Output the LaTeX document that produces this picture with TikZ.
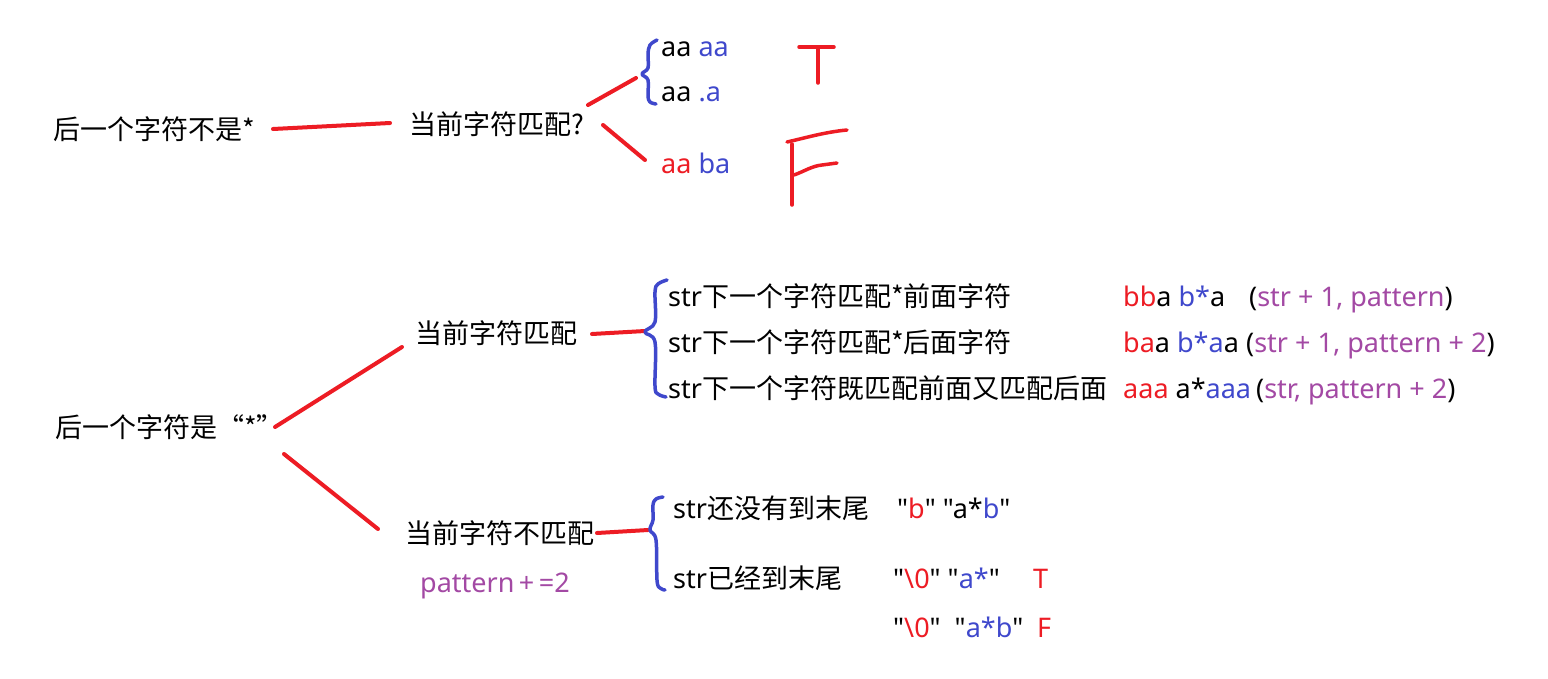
\documentclass[tikz,border=0pt]{standalone}
\usepackage{fontspec}
\setmainfont{Noto Sans}[Ligatures=TeXOff]
\newfontfamily\cjk{Noto Sans CJK SC}[Ligatures=TeXOff]
\definecolor{myred}{HTML}{ED1C24}
\definecolor{myblue}{HTML}{3F48CC}
\definecolor{mypurple}{HTML}{A349A4}
\begin{document}
\begin{tikzpicture}[x=1pt,y=-1pt,
  txt/.style={anchor=base west, inner sep=0pt, font=\fontsize{27}{32}\selectfont},
  redline/.style={draw=myred, line width=4pt, line cap=round},
  bluebrace/.style={draw=myblue, line width=3.5pt, line cap=round, line join=round},
  handred/.style={draw=myred, line width=3.5pt, line cap=round, line join=round}]
\useasboundingbox[fill=white] (0,0) rectangle (1548,678);

% ---------- part 1 ----------
\node[txt] (n1) at (53,139) {\cjk 后一个字符不是*};
\node[txt] (n2) at (409,134) {\cjk 当前字符匹配?};
\node[txt] (a1) at (661,56) {aa \textcolor{myblue}{aa}};
\node[txt] (a2) at (661,101) {aa \textcolor{myblue}{.a}};
\node[txt] (a3) at (661,173) {\textcolor{myred}{aa} \textcolor{myblue}{ba}};

\coordinate (e1a) at (273,129); \coordinate (e1b) at (390,123);
\coordinate (e2a) at (588,105); \coordinate (e2b) at (636,78);
\coordinate (e3a) at (603,125); \coordinate (e3b) at (645,160);
\draw[redline] (e1a) -- (e1b);
\draw[redline] (e2a) -- (e2b);
\draw[redline] (e3a) -- (e3b);
\draw[bluebrace] plot[smooth, tension=0.6] coordinates {(657,40) (650,45) (648,54) (648,68) (642,74) (648,80) (648,96) (650,102) (656,104)};

% hand-drawn T
\draw[handred] (799,47) -- (834,47);
\draw[handred] (818,47) -- (818,83);
% hand-drawn F
\draw[handred] (787,142) .. controls (805,138) and (825,132) .. (847,130);
\draw[handred] (792,144) -- (792,205);
\draw[handred] (794,175) .. controls (805,171) and (812,166) .. (822,165) -- (837,163);

% ---------- part 2 ----------
\node[txt] (m1) at (55,437) {\cjk 后一个字符是“*”};
\node[txt] (m2) at (415,343) {\cjk 当前字符匹配};
\node[txt] (s1) at (668,306) {str{\cjk 下一个字符匹配*前面字符}};
\node[txt] (s2) at (668,352) {str{\cjk 下一个字符匹配*后面字符}};
\node[txt] (s3) at (668,398) {str{\cjk 下一个字符既匹配前面又匹配后面}};
\node[txt] (r1) at (1123,306) {\textcolor{myred}{bb}a \textcolor{myblue}{b*}a};
\node[txt] (p1) at (1249,306) {(\textcolor{mypurple}{str + 1, pattern})};
\node[txt] (r2) at (1123,352) {\textcolor{myred}{ba}a \textcolor{myblue}{b*a}a};
\node[txt] (p2) at (1246,352) {(\textcolor{mypurple}{str + 1, pattern + 2})};
\node[txt] (r3) at (1123,398) {\textcolor{myred}{aaa} a*\textcolor{myblue}{aaa}};
\node[txt] (p3) at (1256,398) {(\textcolor{mypurple}{str, pattern + 2})};

\node[txt] (m3) at (405,543) {\cjk 当前字符不匹配};
\node[txt, text=mypurple] (m4) at (420,592) {pattern\,+\,=2};
\node[txt] (u1) at (673,518) {str{\cjk 还没有到末尾}};
\node[txt] (u2) at (673,588) {str{\cjk 已经到末尾}};
\node[txt] (q1) at (897,518) {"\textcolor{myred}{b}" "a*\textcolor{myblue}{b}"};
\node[txt] (q2) at (893,588) {"\textcolor{myred}{\textbackslash 0}" "\textcolor{myblue}{a*}"};
\node[txt, text=myred] (t1) at (1033,588) {T};
\node[txt] (q3) at (893,637) {"\textcolor{myred}{\textbackslash 0}"\ \ "\textcolor{myblue}{a*b}"};
\node[txt, text=myred] (f1) at (1037,637) {F};

\coordinate (g1a) at (275,427); \coordinate (g1b) at (402,347);
\coordinate (g2a) at (284,454); \coordinate (g2b) at (378,529);
\coordinate (g3a) at (592,334); \coordinate (g3b) at (645,331);
\coordinate (g4a) at (597,533); \coordinate (g4b) at (648,530);
\draw[redline] (g1a) -- (g1b);
\draw[redline] (g2a) -- (g2b);
\draw[redline] (g3a) -- (g3b);
\draw[redline] (g4a) -- (g4b);

\draw[bluebrace] plot[smooth, tension=0.6] coordinates {(667,280) (658,284) (655,292) (655,322) (645,332) (655,342) (655,386) (658,394) (666,397)};
\draw[bluebrace] plot[smooth, tension=0.6] coordinates {(663,497) (656,499) (653,505) (653,520) (650,530) (656,540) (657,580) (660,588) (665,590)};
\end{tikzpicture}
\end{document}
